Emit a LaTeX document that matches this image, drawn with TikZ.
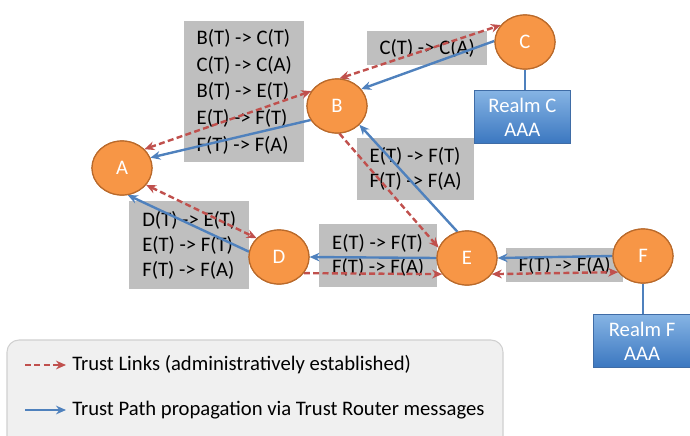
\documentclass[tikz,border=0pt]{standalone}
\usepackage{fontspec}
\setmainfont{Carlito}
\usetikzlibrary{arrows.meta,shapes.geometric}
\definecolor{peer}{HTML}{F79646}
\definecolor{peerline}{HTML}{B9692A}
\definecolor{trustred}{HTML}{C0504D}
\definecolor{pathblue}{HTML}{4F81BD}
\definecolor{msggray}{HTML}{BFBFBF}
\definecolor{realmtop}{HTML}{86B4E4}
\definecolor{realmbot}{HTML}{3B77C0}
\definecolor{realmline}{HTML}{3F6CA6}
\definecolor{legendfill}{HTML}{F0F0F0}
\definecolor{legendline}{HTML}{D0D0D0}
\tikzset{
  peernode/.style={ellipse, fill=peer, draw=peerline, line width=0.9pt,
    minimum width=45pt, minimum height=40.5pt, inner sep=0pt,
    text=white, font=\fontsize{15.5}{18}\selectfont},
  msgbox/.style={fill=msggray, anchor=north west, align=left, inner sep=0pt,
    font=\fontsize{15.5}{20}\selectfont},
  realmbox/.style={rectangle, top color=realmtop, bottom color=realmbot,
    draw=realmline, line width=0.6pt, text=white, align=center, inner sep=0pt,
    anchor=north west, font=\fontsize{15.5}{18}\selectfont},
  tip/.style={Stealth[length=7.5pt,width=6.5pt]},
  trustlink/.style={draw=trustred, line width=1.8pt, dash pattern=on 4.5pt off 2.5pt,
    arrows={Stealth[length=7.5pt,width=6.5pt]-Stealth[length=7.5pt,width=6.5pt]}},
  trustlinkone/.style={draw=trustred, line width=1.8pt, dash pattern=on 4.5pt off 2.5pt,
    arrows={-Stealth[length=7.5pt,width=6.5pt]}},
  pathmsg/.style={draw=pathblue, line width=1.8pt, arrows={-Stealth[length=7.5pt,width=6.5pt]}},
  realmlink/.style={draw=pathblue, line width=1.8pt},
  legendtext/.style={anchor=west, inner sep=0pt, font=\fontsize{15.5}{18}\selectfont}
}
\begin{document}
\begin{tikzpicture}[x=0.75pt, y=-0.75pt]
\clip (0,0) rectangle (690,436);
\useasboundingbox (0,0) rectangle (690,436);

% message tables
\node[msgbox, minimum width=90pt, minimum height=105.75pt] (m1) at (184,21)
  {B(T) -> C(T)\\C(T) -> C(A)\\B(T) -> E(T)\\E(T) -> F(T)\\F(T) -> F(A)};
\node[msgbox, minimum width=90pt, minimum height=25.5pt] (m2) at (367,31) {C(T) -> C(A)};
\node[msgbox, minimum width=87.75pt, minimum height=46.5pt,
  font=\fontsize{15.5}{18.75}\selectfont] (m3) at (357,138) {E(T) -> F(T)\\F(T) -> F(A)};
\node[msgbox, minimum width=90pt, minimum height=66pt,
  font=\fontsize{15.5}{18.75}\selectfont] (m4) at (129,201) {D(T) -> E(T)\\E(T) -> F(T)\\F(T) -> F(A)};
\node[msgbox, minimum width=88.5pt, minimum height=47.25pt,
  font=\fontsize{15.5}{18}\selectfont] (m5) at (319,224) {E(T) -> F(T)\\F(T) -> F(A)};
\node[msgbox, minimum width=87.75pt, minimum height=25.5pt] (m6) at (506,248) {F(T) -> F(A)};

% trust routers
\coordinate (pA) at (122,168);
\coordinate (pB) at (337,106);
\coordinate (pC) at (525,42);
\coordinate (pD) at (279,257);
\coordinate (pE) at (467,258);
\coordinate (pF) at (643,256);
\path (pA) node[peernode] (A) {};
\path (pB) node[peernode] (B) {};
\path (pC) node[peernode] (C) {};
\path (pD) node[peernode] (D) {};
\path (pE) node[peernode] (E) {};
\path (pF) node[peernode] (F) {};

% AAA servers
\node[realmbox, minimum width=72pt, minimum height=39.75pt] (RC) at (474,90) {Realm C\\AAA};
\node[realmbox, minimum width=73pt, minimum height=39.75pt] (RF) at (593,314) {Realm F\\AAA};
\draw[realmlink] (C.south) -- (RC.north -| C.south);
\draw[realmlink] (F.south) -- (RF.north -| F.south);

% trust links
\draw[trustlink] (A.40) -- (B.150);
\draw[trustlink] (B.85) -- (C.145);
\draw[trustlink] (A.-35) -- (D.140);
\draw[trustlinkone] (B.-85) -- (E.160);
\draw[trustlinkone] (D.-33) -- (E.213);
\draw[trustlink] (E.-33) -- (F.213);

% trust path propagation
\draw[pathmsg] (B.208) -- (A.20);
\draw[pathmsg] (C.178) -- (B.35);
\draw[pathmsg] (E.110) -- (B.-40);
\draw[pathmsg] (D.170) -- (A.-78);
\draw[pathmsg] (E.180) -- (D.0);
\draw[pathmsg] (F.180) -- (E.0);

% routers on top of the links
\path (pA) node[peernode] {A};
\path (pB) node[peernode] {B};
\path (pC) node[peernode] {C};
\path (pD) node[peernode] {D};
\path (pE) node[peernode] {E};
\path (pF) node[peernode] {F};

% legend
\draw[fill=legendfill, draw=legendline, line width=0.8pt, rounded corners=9pt]
  (7,340) rectangle (503,460);
\coordinate (l1a) at (25,365);
\coordinate (l1b) at (66,365);
\coordinate (l2a) at (25,410);
\coordinate (l2b) at (66,410);
\draw[trustlinkone] (l1a) -- (l1b);
\draw[pathmsg] (l2a) -- (l2b);
\node[legendtext] (t1) at (72,365) {Trust Links (administratively established)};
\node[legendtext] (t2) at (72,410) {Trust Path propagation via Trust Router messages};
\end{tikzpicture}
\end{document}
